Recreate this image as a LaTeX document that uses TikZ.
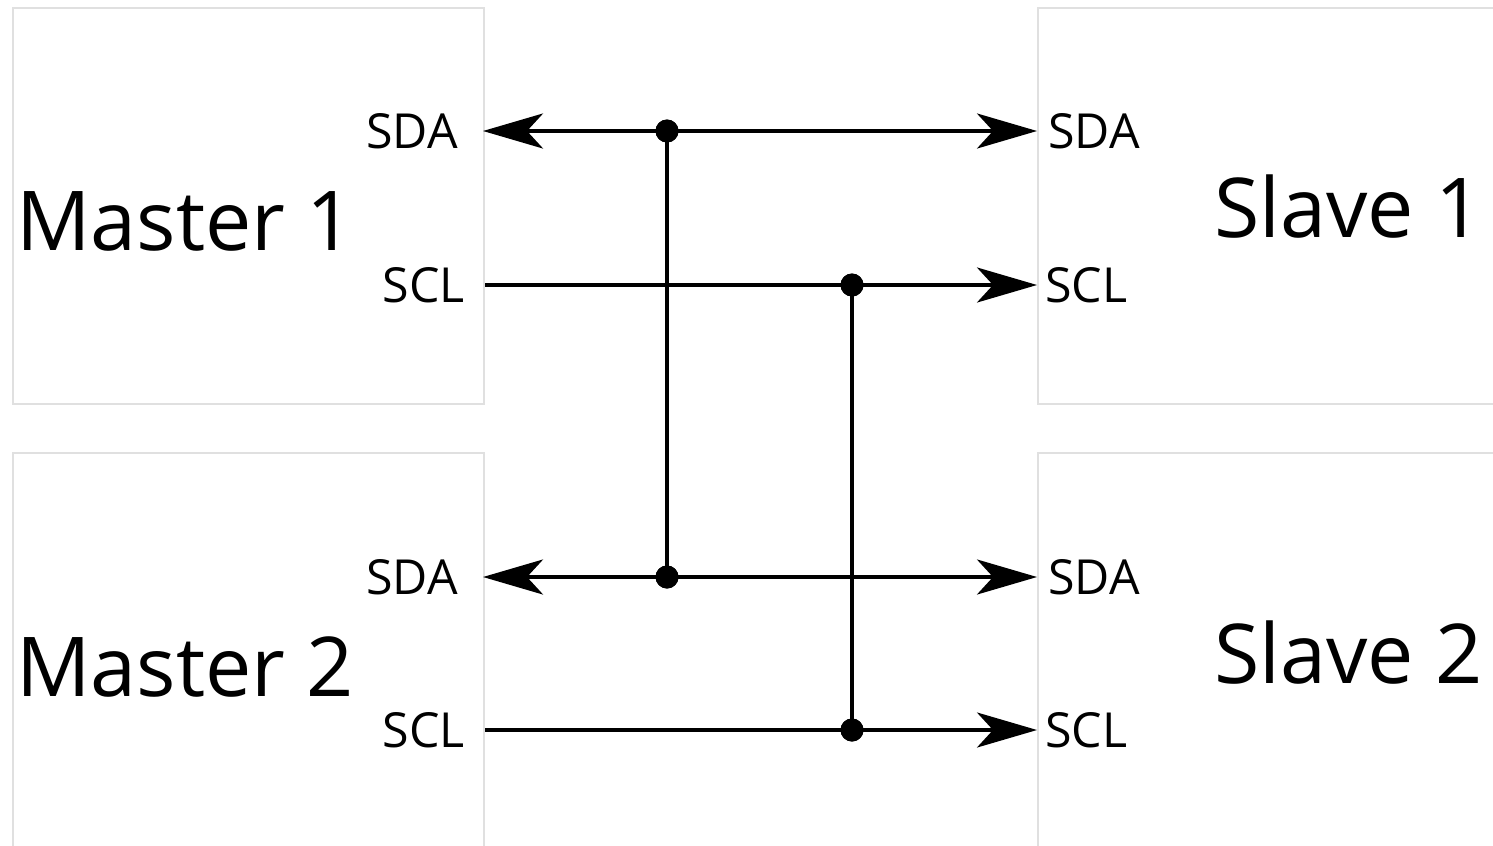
\documentclass[tikz,border=0pt]{standalone}
\usepackage{fontspec}
\setmainfont{Open Sans}
\usetikzlibrary{arrows.meta,positioning,calc}
\tikzset{
    unitBox/.style={
        ,   draw=black!12
        ,   line width=1pt
        ,   fill=white
        ,   minimum width=9.42cm
        ,   minimum height=7.92cm
        ,   inner sep=0pt
        ,   anchor=north west
    },
    unitName/.style={
        ,   font={\fontsize{47pt}{50pt}\selectfont}
        ,   inner sep=0pt
    },
    pinLabel/.style={
        ,   font={\fontsize{27.5pt}{30pt}\selectfont}
        ,   inner sep=0pt
    },
    bus/.style={
        ,   line width=2pt
        ,   draw=black
    },
    busArrow/.style={
        ,   bus
        ,   -{Stealth[length=1.2cm,width=0.7cm,inset=0.32cm]}
    },
    junction/.style={
        ,   circle
        ,   fill=black
        ,   inner sep=0pt
        ,   minimum size=0.46cm
    }
}

\begin{document}
\begin{tikzpicture}[x=0.02cm, y=-0.02cm]
	\useasboundingbox (0,0) rectangle (1493,845);

	% the four units
	\foreach \name/\x/\y in {master1/12/7, master2/12/452, slave1/1037/7, slave2/1037/452}{
	\node[unitBox] (\name) at (\x,\y) {};
	}
	\node[unitName, anchor=base west] (m1name) at (16,250) {Master 1};
	\node[unitName, anchor=base west] (m2name) at (16,696) {Master 2};
	\node[unitName, anchor=base west] (s1name) at (1214,237) {Slave 1};
	\node[unitName, anchor=base west] (s2name) at (1214,683) {Slave 2};

	% pins on the box edges
	\coordinate (m1sda) at (483,131);
	\coordinate (m1scl) at (485,285);
	\coordinate (m2sda) at (483,577);
	\coordinate (m2scl) at (485,730);
	\coordinate (s1sda) at (1037,131);
	\coordinate (s1scl) at (1037,285);
	\coordinate (s2sda) at (1037,577);
	\coordinate (s2scl) at (1037,730);

	\node[pinLabel, left=0.5cm of m1sda] (m1sdaL) {SDA};
	\node[pinLabel, left=0.4cm of m1scl] (m1sclL) {SCL};
	\node[pinLabel, left=0.5cm of m2sda] (m2sdaL) {SDA};
	\node[pinLabel, left=0.4cm of m2scl] (m2sclL) {SCL};
	\node[pinLabel, right=0.22cm of s1sda] (s1sdaL) {SDA};
	\node[pinLabel, right=0.16cm of s1scl] (s1sclL) {SCL};
	\node[pinLabel, right=0.22cm of s2sda] (s2sdaL) {SDA};
	\node[pinLabel, right=0.16cm of s2scl] (s2sclL) {SCL};

	% bus junctions
	\node[junction] (j1sda) at (667,131) {};
	\node[junction] (j2sda) at (667,577) {};
	\node[junction] (j1scl) at (852,285) {};
	\node[junction] (j2scl) at (852,730) {};

	% SDA lines, both ways
	\draw[bus] (j1sda.center) -- (j2sda.center);
	\foreach \j/\m/\s in {j1sda/m1sda/s1sda, j2sda/m2sda/s2sda}{
	\draw[busArrow] (\j.center) -- (\m);
	\draw[busArrow] (\j.center) -- (\s);
	}

	% SCL lines, master to slave
	\draw[bus] (j1scl.center) -- (j2scl.center);
	\draw[busArrow] (m1scl) -- (s1scl);
	\draw[busArrow] (m2scl) -- (s2scl);

	% dots on top
	\foreach \j in {j1sda,j2sda,j1scl,j2scl}{
	\node[junction] at (\j) {};
	}
\end{tikzpicture}
\end{document}
